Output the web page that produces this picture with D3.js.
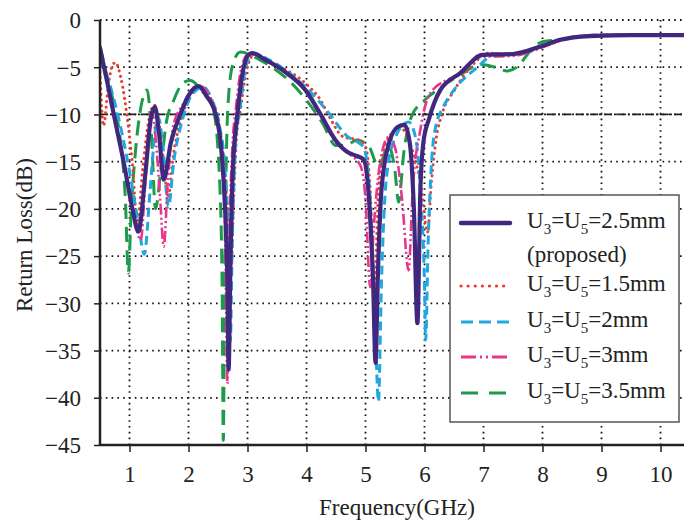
<!DOCTYPE html>
<html>
<head>
<meta charset="utf-8">
<script src="https://cdn.jsdelivr.net/npm/d3@7"></script>
<style>
  html, body { margin: 0; padding: 0; background: #fff; }
  svg { display: block; }
  text { font-family: "Liberation Serif", "Times New Roman", serif; fill: #222; }
</style>
</head>
<body>
<svg id="chart" width="684" height="524"></svg>
<script>
// ---------- DATA ----------
const xTicks = [1, 2, 3, 4, 5, 6, 7, 8, 9, 10];
const yTicks = [0, -5, -10, -15, -20, -25, -30, -35, -40, -45];
const yGrid = [0, -5, -10, -15, -20, -25, -30, -35, -40];
const refLevel = -10;

// U3=U5=2.5mm (proposed)
const freqA = [0.5,0.62,0.75,0.9,1.05,1.15,1.27,1.36,1.43,1.5,1.58,1.7,1.86,2.0,2.17,2.3,2.46,2.56,2.62,2.66,2.68,2.71,2.75,2.83,2.92,3.0,3.08,3.3,3.64,3.98,4.24,4.49,4.7,4.85,4.97,5.07,5.13,5.17,5.21,5.27,5.4,5.55,5.66,5.75,5.82,5.88,5.93,5.98,6.08,6.27,6.61,6.98,7.5,7.97,8.3,8.8,9.5,10.5];
const rlA   = [-3.0,-6.5,-10.5,-15,-20,-22.4,-16.2,-10.5,-9.2,-12,-16.9,-13,-10,-8,-7.0,-8,-10,-14,-20,-28,-37,-26,-16,-9.9,-5.5,-3.8,-3.5,-4.2,-5.5,-7.4,-10,-12.7,-14,-14.4,-14.8,-20,-28,-36.3,-27,-18,-13,-11.3,-11.1,-13,-20,-32.1,-18,-13,-10.4,-7.4,-5.6,-3.7,-3.6,-2.8,-2.1,-1.7,-1.6,-1.6];

// U3=U5=1.5mm
const freqB = [0.5,0.56,0.64,0.7,0.76,0.85,0.98,1.06,1.13,1.22,1.33,1.42,1.5,1.58,1.65,1.75,1.9,2.05,2.2,2.35,2.5,2.6,2.67,2.72,2.76,2.82,2.88,2.98,3.12,3.4,3.98,4.24,4.4,4.63,4.88,5.0,5.08,5.15,5.22,5.35,5.59,5.75,5.95,6.05,6.12,6.2,6.3,6.5,6.78,7.1,7.5,8.0,8.4,8.9,10.5];
const rlB   = [-5.5,-11.2,-7,-5,-4.5,-6,-11.3,-16,-21.8,-16,-10.5,-9,-11,-15,-18.8,-14,-10,-7.8,-7,-8,-10.5,-15,-21,-27,-20,-12,-9.5,-5.5,-3.6,-4.5,-6.7,-8.5,-10.4,-12.4,-12.7,-13.4,-18,-29,-18,-13,-11.4,-13,-18,-22.5,-17,-12.5,-9.9,-7.5,-5,-3.5,-3.7,-2.8,-2.0,-1.6,-1.6];

// U3=U5=2mm
const freqC = [0.5,0.65,0.8,1.0,1.15,1.25,1.35,1.43,1.49,1.56,1.66,1.75,1.9,2.05,2.25,2.4,2.52,2.62,2.68,2.71,2.74,2.8,2.87,2.97,3.1,3.3,3.64,4.0,4.36,4.71,4.86,4.97,5.08,5.15,5.22,5.27,5.35,5.5,5.73,5.85,5.93,6.0,6.02,6.06,6.12,6.19,6.32,6.5,6.9,7.2,7.5,8.0,8.4,8.9,10.5];
const rlC   = [-4.2,-6.5,-10,-16,-21.5,-24.8,-18,-12,-10.3,-13,-19.8,-15,-10.5,-8,-7.1,-8.5,-11,-16,-24,-34,-24,-13,-9.5,-5,-3.5,-4,-5.3,-7.2,-9.7,-12.4,-12.9,-13.5,-19,-29,-40.4,-28,-17,-12.5,-10.8,-12.5,-18,-28,-33.9,-24,-15,-11.3,-9.2,-7.4,-5,-3.6,-3.6,-2.7,-2.0,-1.6,-1.6];

// U3=U5=3mm
const freqD = [0.5,0.62,0.75,0.9,1.05,1.19,1.28,1.35,1.39,1.45,1.52,1.58,1.65,1.75,1.9,2.05,2.2,2.35,2.48,2.57,2.62,2.66,2.69,2.74,2.81,2.9,3.02,3.3,3.64,3.98,4.24,4.49,4.75,4.92,5.0,5.08,5.14,5.25,5.39,5.5,5.62,5.73,5.8,5.93,6.1,6.61,6.95,7.5,8.0,8.4,8.9,10.5];
const rlD   = [-3.5,-6.5,-10.5,-15,-20,-23.3,-16,-11,-10,-13,-19,-24,-17,-11,-9,-7.5,-7,-8,-10.5,-15,-22,-38.5,-24,-14,-9,-5,-3.6,-4.2,-5.6,-7.5,-10.2,-12.9,-14.3,-15.5,-19,-28.3,-22,-15,-12.4,-13.5,-19,-26.5,-18,-11.6,-7.7,-5.6,-3.9,-3.8,-2.9,-2.0,-1.6,-1.6];

// U3=U5=3.5mm
const freqE = [0.5,0.6,0.72,0.85,0.93,0.98,1.03,1.1,1.2,1.3,1.37,1.44,1.53,1.62,1.75,1.92,2.03,2.2,2.42,2.52,2.57,2.59,2.61,2.64,2.68,2.76,2.88,3.2,3.81,4.27,4.5,4.7,4.85,5.05,5.22,5.39,5.5,5.56,5.65,5.78,6.0,6.22,6.61,6.95,7.2,7.4,7.6,7.75,8.0,8.3,8.64,10.5];
const rlE   = [-2.7,-5.5,-8.5,-13,-19,-26.8,-20,-14,-9,-7.4,-12,-20,-15.9,-11,-8.5,-6.6,-6.4,-7.3,-9.5,-16,-28,-44.5,-30,-15,-8,-4.5,-3.4,-4.2,-7.1,-10.9,-13.3,-13.2,-12.7,-13.3,-15.5,-13.4,-16,-19.3,-14,-10.2,-8.5,-7.4,-5.8,-4.7,-5.0,-5.4,-4.8,-3.6,-2.3,-2.1,-1.7,-1.6];

const legendLabels = ["2.5mm", "1.5mm", "2mm", "3mm", "3.5mm"];

// ---------- STYLES ----------
const styles = [
  { color: "#41287f", width: 4.2, dash: null, cap: "round" },
  { color: "#ec3a2f", width: 3, dash: "0.1,5.5", cap: "round" },
  { color: "#1fa8e0", width: 3, dash: "9,5", cap: "butt" },
  { color: "#e8368e", width: 2.6, dash: "11,3,2,3,2,3", cap: "butt" },
  { color: "#1e9a4b", width: 3, dash: "15,8", cap: "butt" }
];

const series = [
  { f: freqA, v: rlA }, { f: freqB, v: rlB }, { f: freqC, v: rlC },
  { f: freqD, v: rlD }, { f: freqE, v: rlE }
];

// ---------- CHART ----------
const svg = d3.select("#chart");
const pLeft = 100, pTop = 20, pBottom = 445, pRight = 690;
const x = d3.scaleLinear().domain([0.5, 10.5]).range([pLeft, pRight]);
const y = d3.scaleLinear().domain([0, -45]).range([pTop, pBottom]);
const FS = 23;

svg.append("rect").attr("width", 684).attr("height", 524).attr("fill", "#fff");

// grid
const grid = svg.append("g");
grid.selectAll(".hg").data(yGrid).enter().append("line")
  .attr("x1", pLeft).attr("x2", 684)
  .attr("y1", d => y(d)).attr("y2", d => y(d))
  .attr("stroke", "#111").attr("stroke-width", 1.8)
  .attr("stroke-dasharray", "1.6,4.2");
grid.selectAll(".vg").data(xTicks).enter().append("line")
  .attr("x1", d => x(d)).attr("x2", d => x(d))
  .attr("y1", pTop).attr("y2", pBottom)
  .attr("stroke", "#111").attr("stroke-width", 1.8)
  .attr("stroke-dasharray", "1.6,4.2");

// -10 dB reference
svg.append("line")
  .attr("x1", pLeft).attr("x2", 684)
  .attr("y1", y(refLevel)).attr("y2", y(refLevel))
  .attr("stroke", "#222").attr("stroke-width", 1.8)
  .attr("stroke-dasharray", "8,2,2,2");

// clip
svg.append("defs").append("clipPath").attr("id", "plotclip")
  .append("rect").attr("x", pLeft).attr("y", pTop - 5).attr("width", 684 - pLeft).attr("height", pBottom - pTop + 4);

const line = d3.line().x(d => x(d[0])).y(d => y(d[1])).curve(d3.curveMonotoneX);
const curves = svg.append("g").attr("clip-path", "url(#plotclip)");
const drawOrder = [4, 1, 2, 3, 0];
drawOrder.forEach(i => {
  const s = series[i], st = styles[i];
  const pts = s.f.map((f, k) => [f, s.v[k]]);
  curves.append("path").datum(pts)
    .attr("d", line)
    .attr("fill", "none")
    .attr("stroke", st.color)
    .attr("stroke-width", st.width)
    .attr("stroke-linecap", st.cap)
    .attr("stroke-linejoin", "round")
    .attr("stroke-dasharray", st.dash);
});

// axes
const xAxis = d3.axisBottom(x).tickValues(xTicks).tickSize(7).tickFormat(d3.format("d"));
const gx = svg.append("g").attr("transform", `translate(0,${pBottom})`).call(xAxis);
gx.select(".domain").attr("d", `M${pLeft},0H684`).attr("stroke", "#222").attr("stroke-width", 2.5);
gx.selectAll(".tick line").attr("stroke", "#222").attr("stroke-width", 1.5);
gx.selectAll(".tick text").attr("font-size", FS).attr("font-family", "Liberation Serif").attr("fill", "#222").attr("y", 21).attr("dy", "0.71em");

const yAxis = d3.axisLeft(y).tickValues(yTicks).tickSize(6).tickFormat(d3.format("d"));
const gy = svg.append("g").attr("transform", `translate(${pLeft},0)`).call(yAxis);
gy.select(".domain").attr("d", `M0,${pTop}V${pBottom}`).attr("stroke", "#222").attr("stroke-width", 2.5);
gy.selectAll(".tick line").attr("stroke", "#222").attr("stroke-width", 1.5);
gy.selectAll(".tick text").attr("font-size", FS).attr("font-family", "Liberation Serif").attr("fill", "#222").attr("x", -19).attr("dy", "0.34em");

// axis titles
svg.append("text").attr("x", 397).attr("y", 515).attr("text-anchor", "middle")
  .attr("font-size", FS).text("Frequency(GHz)");
svg.append("text").attr("transform", "translate(32,235) rotate(-90)").attr("text-anchor", "middle")
  .attr("font-size", FS).text("Return Loss(dB)");

// legend
const lg = svg.append("g");
lg.append("rect").attr("x", 450).attr("y", 195).attr("width", 229).attr("height", 227)
  .attr("fill", "#fff").attr("stroke", "#555").attr("stroke-width", 1.5);
const rowLineY = [223, 286, 322, 357, 393];
const legendDash = [null, "0.1,7", "12,6", "15,4,2,4,2,4", "17,11"];
legendLabels.forEach((lab, i) => {
  const st = styles[i];
  lg.append("line").attr("x1", 461).attr("x2", 510)
    .attr("y1", rowLineY[i]).attr("y2", rowLineY[i])
    .attr("stroke", st.color).attr("stroke-width", i === 0 ? 4.5 : 3.2)
    .attr("stroke-linecap", i <= 1 ? "round" : "butt")
    .attr("stroke-dasharray", legendDash[i]);
  const t = lg.append("text").attr("x", 527).attr("y", rowLineY[i] + 5).attr("font-size", FS);
  t.append("tspan").text("U");
  t.append("tspan").attr("font-size", 15).attr("dy", 6).text("3");
  t.append("tspan").attr("dy", -6).text("=U");
  t.append("tspan").attr("font-size", 15).attr("dy", 6).text("5");
  t.append("tspan").attr("dy", -6).text("=" + lab);
});
lg.append("text").attr("x", 527).attr("y", 262).attr("font-size", FS).text("(proposed)");
</script>
</body>
</html>
